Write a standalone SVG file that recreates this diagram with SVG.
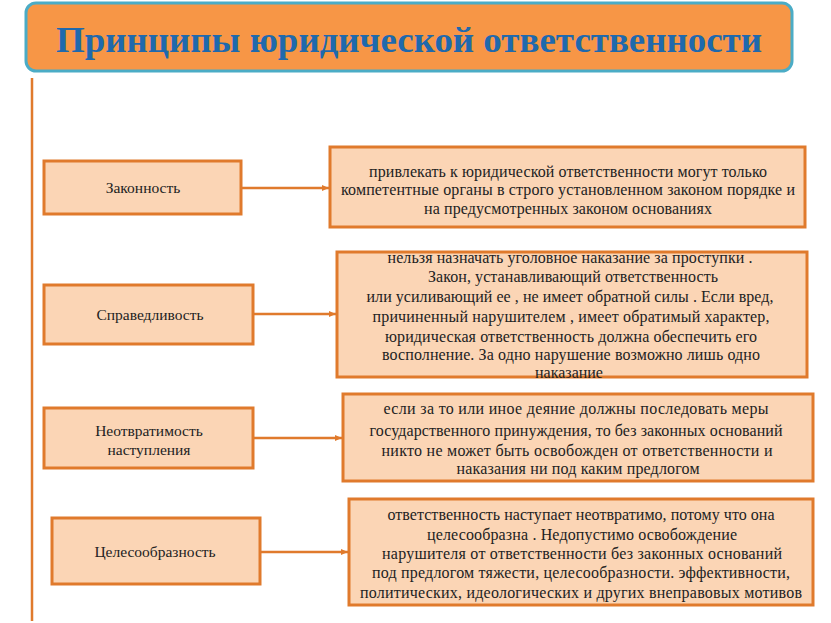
<svg xmlns="http://www.w3.org/2000/svg" width="831" height="623" viewBox="0 0 831 623" font-family="Liberation Serif, serif">
<defs>
<marker id="ah" markerWidth="8" markerHeight="8" refX="7" refY="4" orient="auto" markerUnits="userSpaceOnUse">
<path d="M0,1 L7,4 L0,7 Z" fill="#e07a2c"/>
</marker>
</defs>
<style>
.box{fill:#fbd5b5;stroke:#e07a2c;stroke-width:3}
.lbl{font-family:'Liberation Serif',serif;font-size:15.5px;fill:#222;text-anchor:middle}
.txt{font-family:'Liberation Serif',serif;font-size:16px;fill:#222;text-anchor:middle}
.con{stroke:#e07a2c;stroke-width:2.5;fill:none}
</style>
<rect width="831" height="623" fill="#ffffff"/>
<g id="title">
<rect x="26" y="3" width="766" height="68" rx="10" ry="10" fill="#f79646" stroke="#4bacc6" stroke-width="3"/>
<text x="409" y="52" font-family="Liberation Serif, serif" font-weight="bold" font-size="35" fill="#1f69ad" text-anchor="middle" textLength="706" lengthAdjust="spacingAndGlyphs">Принципы юридической ответственности</text>
</g>
<g id="connectors">
<line class="con" x1="32" y1="78" x2="32" y2="621"/>
<line class="con" x1="241" y1="188" x2="329" y2="188" marker-end="url(#ah)"/>
<line class="con" x1="253" y1="314" x2="336" y2="314" marker-end="url(#ah)"/>
<line class="con" x1="253" y1="438" x2="342" y2="438" marker-end="url(#ah)"/>
<line class="con" x1="260" y1="552" x2="348" y2="552" marker-end="url(#ah)"/>
</g>
<g id="n1" font-family="Liberation Serif, serif">
<rect class="box" x="44" y="161" width="197" height="53"/>
<text class="lbl" x="143" y="193">Законность</text>
</g>
<g id="d1" font-family="Liberation Serif, serif">
<rect class="box" x="330" y="147" width="475" height="80"/>
<text class="txt" x="568" y="177" textLength="398">привлекать к юридической ответственности могут только</text>
<text class="txt" x="568" y="195" textLength="454">компетентные органы в строго установленном законом порядке и</text>
<text class="txt" x="568" y="214" textLength="288">на предусмотренных законом основаниях</text>
</g>
<g id="n2" font-family="Liberation Serif, serif">
<rect class="box" x="44" y="285" width="209" height="59"/>
<text class="lbl" x="150" y="320">Справедливость</text>
</g>
<g id="d2" font-family="Liberation Serif, serif">
<rect class="box" x="337" y="252" width="470" height="125"/>
<text class="txt" x="570" y="263" textLength="365">нельзя назначать уголовное наказание за проступки .</text>
<text class="txt" x="573" y="282" textLength="290">Закон, устанавливающий ответственность</text>
<text class="txt" x="570" y="302" textLength="407">или усиливающий ее , не имеет обратной силы . Если вред,</text>
<text class="txt" x="571" y="322" textLength="397">причиненный нарушителем , имеет обратимый характер,</text>
<text class="txt" x="571" y="342" textLength="372">юридическая ответственность должна обеспечить его</text>
<text class="txt" x="571" y="360" textLength="378">восполнение. За одно нарушение возможно лишь одно</text>
<text class="txt" x="569" y="378">наказание</text>
</g>
<g id="n3" font-family="Liberation Serif, serif">
<rect class="box" x="44" y="408" width="209" height="60"/>
<text class="lbl" x="149" y="436">Неотвратимость</text>
<text class="lbl" x="149" y="455">наступления</text>
</g>
<g id="d3" font-family="Liberation Serif, serif">
<rect class="box" x="343" y="394" width="470" height="87"/>
<text class="txt" x="576" y="414" textLength="385">если за то или иное деяние  должны последовать меры</text>
<text class="txt" x="576" y="436" textLength="413">государственного принуждения, то без законных оснований</text>
<text class="txt" x="577" y="456" textLength="391">никто  не может быть освобожден от ответственности  и</text>
<text class="txt" x="578" y="474" textLength="243">наказания ни под каким предлогом</text>
</g>
<g id="n4" font-family="Liberation Serif, serif">
<rect class="box" x="52" y="518" width="208" height="66"/>
<text class="lbl" x="155" y="557">Целесообразность</text>
</g>
<g id="d4" font-family="Liberation Serif, serif">
<rect class="box" x="349" y="499" width="464" height="106"/>
<text class="txt" x="581" y="520" textLength="387">ответственность наступает неотвратимо, потому что она</text>
<text class="txt" x="582" y="540" textLength="310">целесообразна . Недопустимо освобождение</text>
<text class="txt" x="582" y="559" textLength="400">нарушителя от ответственности без  законных оснований</text>
<text class="txt" x="581" y="578" textLength="418">под предлогом  тяжести, целесообразности. эффективности,</text>
<text class="txt" x="581" y="598" textLength="442">политических, идеологических и других внеправовых  мотивов</text>
</g>
</svg>
